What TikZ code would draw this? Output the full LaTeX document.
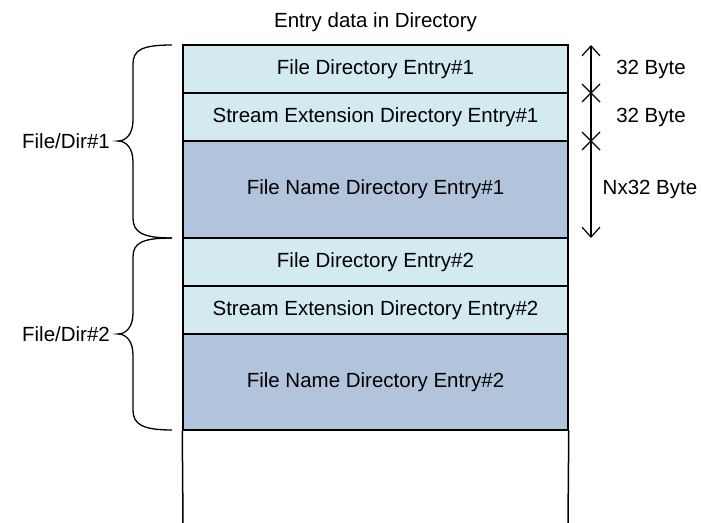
\documentclass[tikz,border=0pt]{standalone}
\usepackage{fontspec}
\setmainfont{Liberation Sans}
\usetikzlibrary{arrows.meta}
\definecolor{lightrow}{RGB}{210,234,240}
\definecolor{darkrow}{RGB}{178,196,220}
\tikzset{
  rowbox/.style={draw=black, line width=1.5pt, minimum width=385pt, inner sep=0pt, font=\fontsize{20.5}{24}\selectfont, text=black},
  smallrow/.style={rowbox, fill=lightrow, minimum height=48pt},
  bigrow/.style={rowbox, fill=darkrow, minimum height=97pt},
  lbl/.style={font=\fontsize{20.5}{24}\selectfont, inner sep=0pt},
  brace/.style={line width=1.3pt},
  sizearrow/.style={line width=1.2pt, {Straight Barb[length=10pt,width=18pt]}-{Straight Barb[length=10pt,width=18pt]}},
  xmark/.style={line width=1.2pt}
}
\begin{document}
\begin{tikzpicture}[x=1pt,y=-1pt]
\useasboundingbox (0,0) rectangle (701,522);
\node[lbl] (title) at (375.5,22) {Entry data in Directory};
\node[smallrow] (f1) at (375.5,69) {File Directory Entry\#1};
\node[smallrow] (s1) at (375.5,117) {Stream Extension Directory Entry\#1};
\node[bigrow, minimum height=97pt] (n1) at (375.5,189.5) {File Name Directory Entry\#1};
\node[smallrow] (f2) at (375.5,262) {File Directory Entry\#2};
\node[smallrow] (s2) at (375.5,310) {Stream Extension Directory Entry\#2};
\node[bigrow, minimum height=96pt] (n2) at (375.5,382) {File Name Directory Entry\#2};
\coordinate (bl) at (183,524);
\coordinate (br) at (568,524);
\draw[line width=1.5pt] (n2.south west) -- (bl);
\draw[line width=1.5pt] (n2.south east) -- (br);
% size arrow
\coordinate (atop) at (591,45);
\coordinate (abot) at (591,238);
\coordinate (x1) at (591,93);
\coordinate (x2) at (591,141);
\draw[sizearrow] (atop) -- (abot);
\draw[xmark] ([shift={(-9,-9)}]x1) -- ([shift={(9,9)}]x1) ([shift={(-9,9)}]x1) -- ([shift={(9,-9)}]x1);
\draw[xmark] ([shift={(-9,-9)}]x2) -- ([shift={(9,9)}]x2) ([shift={(-9,9)}]x2) -- ([shift={(9,-9)}]x2);
\node[lbl] (b1) at (651,69) {32 Byte};
\node[lbl] (b2) at (651,117) {32 Byte};
\node[lbl] (b3) at (650,189) {Nx32 Byte};
% braces
\draw[brace] (172,45) .. controls (142,45) and (133,50) .. (133,64) -- (133,120) .. controls (133,134) and (126,141) .. (118,141)
  .. controls (126,141) and (133,148) .. (133,162) -- (133,218) .. controls (133,232) and (142,238) .. (172,238);
\draw[brace] (172,238) .. controls (142,238) and (133,243) .. (133,257) -- (133,313) .. controls (133,327) and (126,334) .. (118,334)
  .. controls (126,334) and (133,341) .. (133,355) -- (133,410) .. controls (133,424) and (142,430) .. (172,430);
\node[lbl] (g1) at (66,141) {File/Dir\#1};
\node[lbl] (g2) at (66,334) {File/Dir\#2};
\end{tikzpicture}
\end{document}
